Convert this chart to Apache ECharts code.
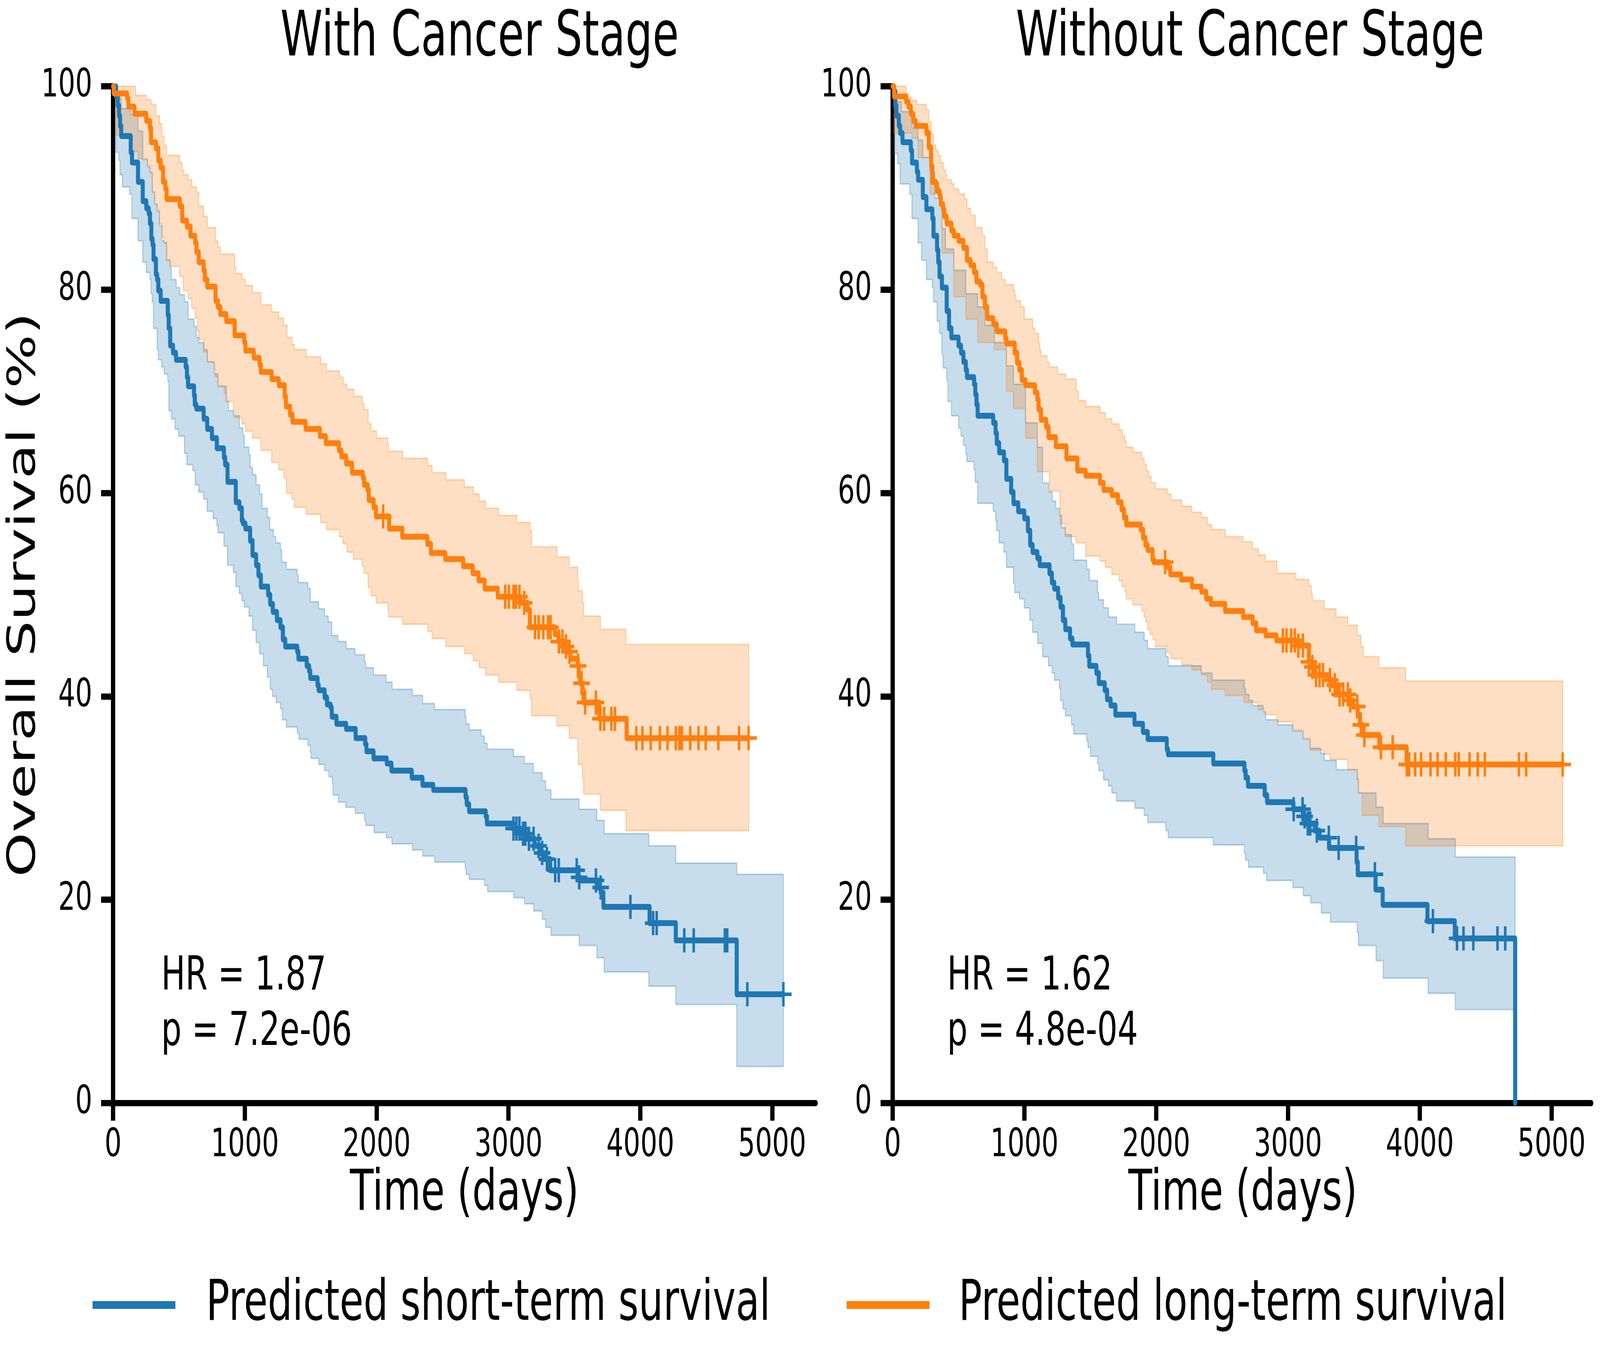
<!DOCTYPE html>
<html><head><meta charset="utf-8">
<script src="https://cdn.jsdelivr.net/npm/echarts@6/dist/echarts.min.js"></script>
<style>
html,body{margin:0;padding:0;background:#fff;overflow:hidden;width:100%;height:100%}
#wrap{position:absolute;left:0;top:0;width:100vw;height:100vh;overflow:hidden}
#c{position:absolute;left:0;top:0;width:5985px;height:3488px;transform-origin:0 0}
</style>
</head><body><div id="wrap"><div id="c"></div></div>
<script>
// ---------------- DATA ----------------
const panelTitles = ['With Cancer Stage', 'Without Cancer Stage'];
const groupNames = ['Predicted short-term survival', 'Predicted long-term survival'];
const statLines = [['HR = 1.87', 'p = 7.2e-06'], ['HR = 1.62', 'p = 4.8e-04']];
const xTicks = [0, 1000, 2000, 3000, 4000, 5000];
const yTicks = [0, 20, 40, 60, 80, 100];
const xLabel = 'Time (days)';
const yLabel = 'Overall Survival (%)';

// Left panel (With Cancer Stage) - short-term group
const leftShortCurve = [[0,100],[22,99.0],[35,98.1],[45,97.1],[53,96.1],[62,95.1],[134,93.5],[143,92.5],[189,90.6],[225,88.7],[252,88.0],[270,87.5],[280,86.5],[290,85.0],[300,84.4],[307,83.0],[325,81.5],[334,81.0],[343,79.9],[361,78.9],[415,77.5],[422,76.2],[433,74.5],[455,73.8],[477,73.1],[551,72.4],[560,71.4],[569,70.5],[614,69.6],[620,68.7],[632,68.3],[687,67.3],[714,66.3],[750,65.4],[787,64.4],[841,63.5],[850,62.8],[868,61.1],[931,59.1],[958,58.5],[977,57.3],[986,57.0],[1004,56.5],[1040,55.3],[1058,53.9],[1085,52.9],[1103,51.9],[1121,50.8],[1176,50.0],[1192,49.1],[1212,48.3],[1243,47.5],[1270,46.8],[1288,45.6],[1306,44.9],[1397,44.4],[1406,43.7],[1469,43.0],[1487,42.5],[1496,41.8],[1551,41.1],[1560,40.6],[1605,39.9],[1623,39.2],[1650,38.9],[1659,38.0],[1695,37.3],[1768,36.8],[1840,35.9],[1913,35.3],[1922,34.6],[1976,33.9],[2076,33.4],[2112,32.7],[2266,32.0],[2347,31.3],[2429,30.8],[2674,30.1],[2683,29.4],[2701,28.7],[2827,28.2],[2836,27.5],[3036,27.0],[3090,26.5],[3144,26.0],[3199,25.3],[3240,24.6],[3271,24.0],[3316,22.9],[3527,22.2],[3543,21.9],[3679,21.2],[3700,20.7],[3720,19.3],[4070,17.7],[4269,16.0],[4731,10.7],[5085,10.7]];
const leftShortUpper = [[0,100],[22,100],[35,99.5],[53,98.8],[62,97.8],[134,97.2],[189,95.6],[225,92.8],[261,92.1],[279,91.5],[297,89.6],[315,88.4],[334,87.7],[352,86.3],[370,84.8],[388,84.6],[406,82.9],[433,82.2],[442,81.0],[479,80.2],[506,79.5],[542,78.8],[569,77.1],[614,76.4],[632,75.3],[650,74.8],[687,74.1],[714,72.9],[768,71.7],[796,70.5],[859,69.0],[877,68.1],[913,67.6],[958,66.4],[986,65.7],[995,64.5],[1031,63.8],[1040,62.5],[1058,61.8],[1085,60.8],[1112,59.9],[1130,58.5],[1170,57.6],[1188,56.4],[1216,55.7],[1234,55.1],[1270,54.4],[1279,53.2],[1315,52.5],[1397,51.9],[1406,51.2],[1478,50.6],[1496,49.3],[1560,48.6],[1605,47.9],[1632,47.3],[1659,46.0],[1705,45.4],[1768,44.7],[1835,44.1],[1908,43.4],[1917,42.8],[1976,42.1],[2071,41.4],[2117,40.7],[2271,40.1],[2349,39.3],[2439,38.7],[2671,38.0],[2678,37.3],[2702,36.7],[2793,36.1],[2815,35.4],[2838,34.8],[3038,34.1],[3119,33.4],[3188,32.5],[3255,31.7],[3282,30.8],[3322,29.9],[3536,28.9],[3670,27.8],[3726,26.5],[4064,25.3],[4269,23.6],[4731,22.5],[5085,22.5]];
const leftShortLower = [[0,100],[22,93.5],[44,92.7],[53,91.3],[71,90.1],[125,89.4],[143,87.0],[189,84.8],[225,82.7],[252,81.7],[279,81.0],[288,79.6],[297,78.8],[306,76.2],[334,74.1],[343,73.1],[370,72.4],[388,71.7],[415,71.0],[424,68.1],[442,67.3],[470,66.3],[497,65.6],[542,63.9],[560,62.8],[605,62.2],[623,60.8],[650,60.1],[687,59.4],[714,58.2],[759,57.5],[787,56.8],[796,56.1],[841,54.8],[868,52.9],[913,52.2],[931,50.8],[958,50.1],[977,49.4],[995,48.8],[1031,47.9],[1058,46.5],[1085,45.3],[1112,44.2],[1140,43.0],[1170,41.9],[1192,40.7],[1210,40.0],[1237,39.4],[1270,38.8],[1283,37.7],[1315,37.0],[1397,36.4],[1410,35.8],[1478,35.2],[1496,34.5],[1502,33.9],[1560,33.3],[1605,32.7],[1638,32.1],[1663,31.4],[1669,30.3],[1709,29.6],[1765,29.1],[1837,28.5],[1908,27.8],[1917,27.3],[1980,26.6],[2073,26.1],[2116,25.5],[2272,24.9],[2348,24.3],[2439,23.7],[2671,23.1],[2678,22.5],[2702,22.0],[2819,21.4],[2841,20.8],[3040,20.2],[3121,19.6],[3190,18.9],[3255,18.1],[3282,17.3],[3322,16.5],[3536,15.5],[3670,14.3],[3726,12.9],[4064,11.5],[4269,9.7],[4731,3.6],[5085,3.6]];
const leftShortCensor = [3038,3060,3083,3110,3128,3155,3190,3228,3255,3291,3354,3381,3517,3536,3663,3699,3925,4097,4124,4333,4405,4641,4659,4812,5085];

// Left panel - long-term group
const leftLongCurve = [[0,100],[5,99.3],[107,98.8],[116,98.0],[162,97.3],[252,96.6],[279,95.9],[288,94.5],[325,93.9],[343,92.7],[361,92.0],[379,90.6],[397,89.9],[406,88.9],[506,88.2],[524,86.8],[560,86.2],[587,85.3],[623,84.6],[632,83.7],[650,82.7],[687,81.9],[696,81.0],[714,80.3],[777,78.9],[795,78.3],[813,77.6],[859,76.9],[922,75.5],[995,74.8],[1004,74.0],[1067,73.3],[1112,72.6],[1121,71.9],[1203,71.2],[1257,70.6],[1302,69.5],[1311,68.5],[1343,67.7],[1361,67.0],[1460,66.3],[1569,65.6],[1614,64.9],[1714,64.2],[1732,63.6],[1768,62.9],[1813,62.0],[1895,61.5],[1904,60.8],[1931,60.3],[1940,59.3],[1976,58.6],[1994,57.7],[2094,56.5],[2194,55.7],[2384,55.0],[2411,54.1],[2520,53.5],[2656,52.8],[2728,52.1],[2773,51.4],[2819,50.6],[2918,49.8],[3090,49.2],[3144,48.5],[3162,46.8],[3352,46.1],[3379,45.4],[3416,44.9],[3452,44.4],[3470,43.7],[3525,43.0],[3534,42.0],[3543,41.3],[3561,40.6],[3570,39.4],[3688,37.8],[3896,35.9],[4823,35.9]];
const leftLongUpper = [[0,100],[107,100],[171,99.1],[252,98.7],[288,98.2],[325,97.1],[352,96.3],[370,95.1],[388,94.2],[406,93.2],[506,92.5],[524,91.8],[533,91.3],[569,90.8],[596,90.1],[632,89.6],[650,88.2],[687,87.2],[714,86.1],[777,84.8],[795,84.2],[813,83.5],[922,82.2],[931,81.6],[977,81.0],[1004,80.4],[1058,79.7],[1121,78.5],[1203,77.8],[1257,77.2],[1293,76.5],[1320,75.3],[1357,74.6],[1375,74.1],[1465,73.4],[1574,72.7],[1619,72.0],[1719,71.4],[1746,70.7],[1773,70.2],[1828,69.5],[1891,68.8],[1904,68.2],[1935,66.8],[1958,66.1],[1998,65.4],[2085,64.8],[2091,64.1],[2197,63.4],[2388,62.7],[2420,62.0],[2525,61.3],[2665,60.6],[2732,59.9],[2777,59.2],[2828,58.5],[2924,57.8],[3063,57.1],[3163,56.3],[3175,54.7],[3367,53.7],[3461,52.7],[3525,51.5],[3530,50.4],[3561,49.2],[3570,47.9],[3697,46.6],[3891,45.1],[4823,45.1]];
const leftLongLower = [[0,100],[22,95.2],[125,93.6],[189,92.9],[261,92.2],[279,91.6],[297,89.6],[315,88.5],[334,87.8],[352,86.5],[370,85.1],[388,84.6],[406,82.9],[433,82.3],[506,81.3],[533,79.9],[569,79.1],[596,78.2],[623,77.2],[641,76.0],[650,75.1],[687,73.9],[714,72.9],[768,72.2],[777,71.4],[795,70.5],[841,69.8],[859,69.0],[913,68.1],[922,67.4],[977,66.8],[1004,66.1],[1058,65.4],[1121,64.2],[1203,63.0],[1255,62.3],[1297,61.5],[1315,60.0],[1357,59.4],[1375,58.6],[1466,57.9],[1574,57.1],[1618,56.4],[1718,55.7],[1745,55.0],[1774,54.2],[1823,53.5],[1891,52.8],[1904,52.1],[1935,50.7],[1958,49.9],[1998,49.2],[2085,48.5],[2091,47.8],[2197,47.1],[2388,46.4],[2420,45.7],[2525,44.9],[2665,44.2],[2732,43.5],[2777,42.8],[2828,42.1],[2924,41.4],[3063,40.6],[3163,39.8],[3175,38.1],[3367,37.1],[3461,35.9],[3525,34.6],[3530,33.3],[3561,31.8],[3570,30.4],[3697,28.8],[3891,26.8],[4823,26.8]];
const leftLongCensor = [2049,2975,3002,3038,3056,3083,3119,3201,3228,3264,3300,3319,3382,3409,3436,3463,3527,3554,3581,3663,3697,3726,3780,3807,3970,4016,4079,4148,4206,4269,4296,4315,4378,4441,4496,4592,4749,4821];

// Right panel (Without Cancer Stage) - short-term group
const rightShortCurve = [[0,100],[11,99.5],[20,98.1],[29,97.1],[47,96.1],[57,95.4],[75,94.5],[138,93.7],[147,92.5],[184,91.6],[193,90.8],[229,89.1],[256,87.9],[301,87.0],[310,85.3],[337,83.9],[346,82.7],[356,81.3],[374,80.2],[410,77.9],[428,76.2],[446,75.3],[500,74.5],[519,73.8],[537,72.9],[555,72.1],[564,71.4],[618,70.7],[627,69.7],[636,68.7],[645,67.6],[763,66.9],[781,65.9],[790,64.9],[808,64.0],[845,63.2],[863,61.4],[899,60.1],[917,59.0],[953,58.2],[999,57.5],[1026,56.3],[1044,54.9],[1062,54.2],[1098,53.6],[1116,52.9],[1190,52.1],[1208,51.2],[1226,50.6],[1256,49.7],[1274,48.8],[1292,47.5],[1310,46.6],[1346,45.7],[1364,45.1],[1482,44.0],[1492,43.0],[1546,42.3],[1564,41.3],[1609,40.6],[1627,39.7],[1654,39.1],[1690,38.2],[1835,37.3],[1899,36.5],[1935,35.8],[2080,34.8],[2089,34.3],[2433,33.4],[2669,32.7],[2678,32.0],[2696,31.2],[2823,30.3],[2841,29.6],[3040,28.9],[3112,28.2],[3139,27.5],[3203,26.8],[3239,26.1],[3311,25.1],[3520,23.7],[3529,22.5],[3664,21.0],[3718,19.5],[4058,17.9],[4265,16.2],[4723,0]];
const rightShortUpper = [[0,100],[11,98.5],[66,97.5],[147,95.9],[193,94.7],[229,93.0],[283,91.6],[320,89.0],[374,86.0],[401,84.0],[464,81.9],[555,79.6],[645,78.3],[700,76.5],[772,74.8],[863,72.5],[917,70.7],[1008,66.9],[1098,64.5],[1138,61.0],[1183,60.1],[1210,59.2],[1238,58.5],[1265,57.8],[1283,56.6],[1310,55.9],[1356,55.0],[1374,53.4],[1473,52.5],[1492,51.4],[1555,50.2],[1564,49.5],[1600,48.7],[1637,47.8],[1700,47.1],[1838,46.3],[1908,45.5],[1935,44.7],[2073,43.9],[2091,43.0],[2342,42.3],[2424,41.6],[2669,40.8],[2678,40.2],[2704,39.6],[2731,39.1],[2811,38.5],[2830,37.7],[2922,37.2],[3036,36.6],[3112,35.8],[3167,34.9],[3248,34.4],[3275,33.7],[3366,32.8],[3525,31.9],[3534,30.5],[3668,29.1],[3722,27.5],[4063,26.0],[4269,24.2],[4723,24.2]];
const rightShortLower = [[0,100],[11,93.4],[38,92.4],[57,90.4],[129,89.4],[147,87.0],[193,84.6],[220,82.9],[256,81.0],[301,80.2],[310,78.8],[337,76.9],[356,75.7],[374,73.6],[383,72.3],[410,71.1],[419,69.0],[446,67.6],[500,66.4],[519,65.6],[537,64.7],[555,63.8],[564,63.1],[618,62.3],[627,61.1],[645,59.0],[763,58.2],[781,57.3],[790,56.3],[808,55.1],[845,54.2],[863,52.7],[917,51.1],[926,50.2],[962,49.6],[999,48.7],[1040,47.5],[1062,46.3],[1100,45.2],[1138,43.9],[1183,43.0],[1210,42.3],[1228,41.6],[1265,40.8],[1274,39.6],[1292,38.8],[1310,38.1],[1356,37.2],[1374,36.3],[1473,35.6],[1482,35.0],[1500,34.1],[1555,33.4],[1564,32.7],[1600,31.8],[1637,31.2],[1663,30.5],[1700,29.7],[1838,29.0],[1908,28.3],[1935,27.6],[2073,26.8],[2091,26.1],[2433,25.4],[2669,24.6],[2678,23.9],[2700,23.2],[2814,22.6],[2837,21.9],[3036,21.2],[3116,20.4],[3172,19.7],[3252,18.7],[3321,17.8],[3525,16.8],[3534,15.5],[3668,14.0],[3722,12.3],[4063,10.8],[4269,9.2],[4723,9.2]];
const rightShortCensor = [3043,3110,3126,3150,3168,3218,3309,3384,3517,3659,4099,4282,4331,4406,4589,4648];

// Right panel - long-term group
const rightLongCurve = [[0,100],[11,99.0],[102,98.5],[120,98.0],[138,97.3],[156,96.6],[174,96.1],[256,95.4],[274,94.0],[292,92.2],[301,90.6],[328,90.4],[337,89.7],[356,89.2],[365,88.4],[383,87.9],[392,87.2],[410,86.5],[446,85.8],[464,85.3],[500,84.8],[537,84.1],[564,82.9],[591,82.4],[618,81.7],[636,80.8],[663,80.5],[681,79.3],[700,78.3],[718,77.2],[763,76.6],[790,75.9],[854,75.2],[863,74.7],[926,73.8],[944,72.8],[962,72.1],[980,71.1],[1008,70.6],[1080,69.9],[1098,69.2],[1107,68.2],[1125,67.2],[1165,66.5],[1183,65.5],[1238,64.6],[1319,63.4],[1401,62.2],[1464,61.7],[1573,61.0],[1600,60.3],[1663,59.8],[1709,59.1],[1737,58.4],[1755,57.6],[1773,56.9],[1882,56.4],[1900,55.6],[1918,54.9],[1935,54.4],[1972,53.5],[1981,53.2],[2089,52.7],[2107,52.0],[2189,51.5],[2271,50.8],[2342,50.3],[2379,49.6],[2415,49.1],[2523,48.4],[2659,47.8],[2731,47.2],[2758,46.5],[2830,46.0],[2912,45.5],[3076,45.0],[3158,43.4],[3175,42.9],[3193,42.1],[3310,41.6],[3337,41.1],[3373,40.2],[3455,39.6],[3492,39.0],[3528,38.2],[3546,37.2],[3565,36.2],[3692,35.0],[3900,33.3],[5084,33.3]];
const rightLongUpper = [[0,100],[102,99.3],[120,98.9],[147,98.6],[184,98.2],[256,97.7],[274,96.5],[292,95.3],[310,94.2],[328,93.7],[346,93.2],[365,92.5],[383,91.8],[401,91.3],[410,90.8],[446,90.4],[464,89.9],[500,89.4],[546,88.9],[564,88.0],[591,87.3],[627,86.1],[681,85.3],[700,84.0],[718,82.7],[763,82.2],[790,81.7],[826,81.0],[854,80.5],[917,80.0],[926,79.5],[935,78.9],[971,78.3],[999,77.1],[1062,76.2],[1080,75.7],[1107,74.8],[1116,74.1],[1125,73.5],[1171,72.9],[1189,72.4],[1252,71.7],[1315,71.2],[1392,70.1],[1410,69.1],[1464,68.5],[1573,67.9],[1614,67.3],[1663,66.8],[1718,66.2],[1745,65.6],[1763,65.1],[1772,64.5],[1823,64.0],[1890,63.4],[1908,62.8],[1926,62.2],[1944,61.6],[1962,61.0],[1993,60.4],[2083,59.9],[2112,59.3],[2194,58.7],[2270,58.1],[2342,57.6],[2388,56.9],[2420,56.4],[2523,55.7],[2659,55.2],[2728,54.5],[2777,53.9],[2827,53.3],[2916,52.1],[3060,51.5],[3158,50.9],[3176,50.1],[3185,49.4],[3274,48.6],[3364,47.8],[3454,47.0],[3525,46.0],[3552,44.9],[3570,43.9],[3690,42.8],[3892,41.5],[5084,41.5]];
const rightLongLower = [[0,100],[11,95.4],[147,94.9],[193,93.0],[283,89.4],[374,83.6],[464,79.3],[555,77.1],[645,74.8],[772,74.1],[863,70.0],[917,68.3],[1008,65.4],[1098,62.1],[1189,60.2],[1270,57.0],[1310,55.7],[1392,55.1],[1464,53.8],[1573,53.3],[1613,52.7],[1663,52.0],[1718,51.4],[1741,50.8],[1763,50.3],[1772,49.6],[1823,49.0],[1890,48.4],[1908,47.8],[1921,47.3],[1935,46.6],[1953,46.1],[1975,45.6],[1993,44.9],[2083,44.3],[2112,43.7],[2194,43.1],[2270,42.6],[2342,42.1],[2388,41.4],[2420,40.7],[2523,40.1],[2665,39.4],[2773,38.7],[2827,38.2],[2916,37.5],[3033,36.7],[3114,35.9],[3167,34.7],[3274,34.3],[3319,33.8],[3453,32.8],[3525,31.8],[3534,30.5],[3561,28.3],[3690,27.2],[3892,25.3],[5084,25.3]];
const rightLongCensor = [2067,2961,2988,3024,3051,3078,3113,3158,3185,3212,3239,3265,3319,3355,3391,3418,3454,3472,3525,3552,3579,3705,3794,3901,3919,3964,4009,4081,4135,4197,4269,4296,4377,4439,4493,4752,4806,5084];

const groupColors = ['#1f77b4', '#ff7f0e'];
const bandFills = ['rgba(31,119,180,0.25)', 'rgba(255,127,14,0.25)'];
const bandEdges = ['rgba(31,119,180,0.30)', 'rgba(255,127,14,0.30)'];

// ---------------- HELPERS ----------------
function stepAt(arr, t) {
  let v = arr[0][1];
  for (const p of arr) { if (p[0] <= t) v = p[1]; else break; }
  return v;
}
function bandRects(lower, upper) {
  const times = Array.from(new Set(lower.map(p => p[0]).concat(upper.map(p => p[0])))).sort((a, b) => a - b);
  const out = [];
  for (let i = 0; i < times.length - 1; i++) {
    out.push([times[i], times[i + 1], stepAt(lower, times[i]), stepAt(upper, times[i])]);
  }
  return out;
}
const panels = [
  [
    { curve: leftShortCurve, lower: leftShortLower, upper: leftShortUpper, censor: leftShortCensor },
    { curve: leftLongCurve, lower: leftLongLower, upper: leftLongUpper, censor: leftLongCensor }
  ],
  [
    { curve: rightShortCurve, lower: rightShortLower, upper: rightShortUpper, censor: rightShortCensor },
    { curve: rightLongCurve, lower: rightLongLower, upper: rightLongUpper, censor: rightLongCensor }
  ]
];

const FONT = 'DejaVu Sans';
const plusPath = 'path://M-1.5,-10L1.5,-10L1.5,-1.5L10,-1.5L10,1.5L1.5,1.5L1.5,10L-1.5,10L-1.5,1.5L-10,1.5L-10,-1.5L-1.5,-1.5Z';

const W = 5985, H = 3488;
const grids = [
  { left: 423, top: 221, width: 2628, height: 2604 },
  { left: 3339, top: 221, width: 2613, height: 2604 }
];
const xMax = [5330, 5300];

const xAxes = [], yAxes = [], series = [];
panels.forEach((groups, pi) => {
  xAxes.push({
    type: 'value', gridIndex: pi, min: 0, max: xMax[pi], interval: 1000,
    axisLine: { show: true, onZero: false, lineStyle: { color: '#000', width: 16 } },
    axisTick: { show: true, length: 45, lineStyle: { color: '#000', width: 16 }, customValues: xTicks },
    axisLabel: { show: true, margin: 60, fontSize: 100, fontFamily: FONT, color: '#000', customValues: xTicks, formatter: v => String(v) },
    splitLine: { show: false }
  });
  yAxes.push({
    type: 'value', gridIndex: pi, min: 0, max: 100, interval: 20,
    axisLine: { show: true, onZero: false, lineStyle: { color: '#000', width: 16 } },
    axisTick: { show: true, length: 45, lineStyle: { color: '#000', width: 16 } },
    axisLabel: { show: true, margin: 78, fontSize: 100, fontFamily: FONT, color: '#000', formatter: v => String(v) },
    splitLine: { show: false }
  });
  // confidence bands (drawn under the curves)
  groups.forEach((g, gi) => {
    const fill = bandFills[gi];
    series.push({
      type: 'custom', name: 'ci-fill-' + pi + '-' + gi, xAxisIndex: pi, yAxisIndex: pi,
      data: bandRects(g.lower, g.upper), silent: true, z: 1, clip: true,
      encode: { x: [0, 1], y: [2, 3] },
      renderItem: function (params, api) {
        const a = api.coord([api.value(0), api.value(3)]);
        const b = api.coord([api.value(1), api.value(2)]);
        const x0 = Math.round(a[0]), x1 = Math.round(b[0]);
        const y0 = Math.round(a[1]), y1 = Math.round(b[1]);
        return { type: 'rect', shape: { x: x0, y: y0, width: x1 - x0, height: y1 - y0 }, style: { fill: fill } };
      }
    });
    const edge = { color: bandEdges[gi], width: 4 };
    series.push({ type: 'line', name: 'ci-lo-' + pi + '-' + gi, xAxisIndex: pi, yAxisIndex: pi, data: g.lower, step: 'end', symbol: 'none', silent: true, z: 1, lineStyle: edge });
    series.push({ type: 'line', name: 'ci-hi-' + pi + '-' + gi, xAxisIndex: pi, yAxisIndex: pi, data: g.upper, step: 'end', symbol: 'none', silent: true, z: 1, lineStyle: edge });
    const last = g.lower[g.lower.length - 1][0];
    series.push({ type: 'line', name: 'ci-end-' + pi + '-' + gi, xAxisIndex: pi, yAxisIndex: pi,
      data: [[last, stepAt(g.lower, last)], [last, stepAt(g.upper, last)]], symbol: 'none', silent: true, z: 1, lineStyle: edge });
  });
  groups.forEach((g, gi) => {
    const col = groupColors[gi];
    series.push({
      type: 'line', name: groupNames[gi], xAxisIndex: pi, yAxisIndex: pi,
      data: g.curve, step: 'end', symbol: 'none', z: 2,
      itemStyle: { color: col },
      lineStyle: { color: col, width: 15, cap: 'round', join: 'round' }
    });
    series.push({
      type: 'scatter', name: 'censor-' + pi + '-' + gi, xAxisIndex: pi, yAxisIndex: pi,
      data: g.censor.map(t => [t, stepAt(g.curve, t)]),
      symbol: plusPath, symbolSize: [62, 62], z: 2, silent: true,
      itemStyle: { color: col, opacity: 1 }
    });
  });
});

const graphics = [];
const titleX = [1794, 4676];
const statX = [603, 3543];
const xNameX = [1737, 4649];
for (let i = 0; i < 2; i++) {
  graphics.push({ type: 'text', x: titleX[i], y: 100, style: { text: panelTitles[i], fontSize: 160, fontFamily: FONT, fill: '#000', align: 'center', verticalAlign: 'middle' } });
  graphics.push({ type: 'text', x: statX[i], y: 2503, style: { text: statLines[i][0], fontSize: 120, fontFamily: FONT, fill: '#000', align: 'left', verticalAlign: 'middle' } });
  graphics.push({ type: 'text', x: statX[i], y: 2645, style: { text: statLines[i][1], fontSize: 120, fontFamily: FONT, fill: '#000', align: 'left', verticalAlign: 'middle' } });
  graphics.push({ type: 'text', x: xNameX[i], y: 3060, style: { text: xLabel, fontSize: 145, fontFamily: FONT, fill: '#000', align: 'center', verticalAlign: 'middle' } });
}
graphics.push({ type: 'text', x: 92, y: 1523, rotation: Math.PI / 2, style: { text: yLabel, fontSize: 145, fontFamily: FONT, fill: '#000', align: 'center', verticalAlign: 'middle' } });

// fit the 5985x3488 drawing into whatever viewport the browser really has
const el = document.getElementById('c');
const vw = window.innerWidth || W, vh = window.innerHeight || H;
el.style.transform = 'scale(' + (vw / W) + ',' + (vh / H) + ')';

const chart = echarts.init(el, null, { renderer: 'canvas', width: W, height: H });
chart.setOption({
  animation: false,
  backgroundColor: '#fff',
  grid: grids,
  xAxis: xAxes,
  yAxis: yAxes,
  legend: [
    { data: [groupNames[0]], left: 341, top: 3252, icon: 'rect', itemWidth: 310, itemHeight: 20, selectedMode: false,
      textStyle: { fontSize: 145, fontFamily: FONT, color: '#000', padding: [0, 0, 0, 110], lineHeight: 170 } },
    { data: [groupNames[1]], left: 3162, top: 3252, icon: 'rect', itemWidth: 310, itemHeight: 20, selectedMode: false,
      textStyle: { fontSize: 145, fontFamily: FONT, color: '#000', padding: [0, 0, 0, 104], lineHeight: 170 } }
  ],
  graphic: graphics,
  series: series
});
</script>
</body></html>
